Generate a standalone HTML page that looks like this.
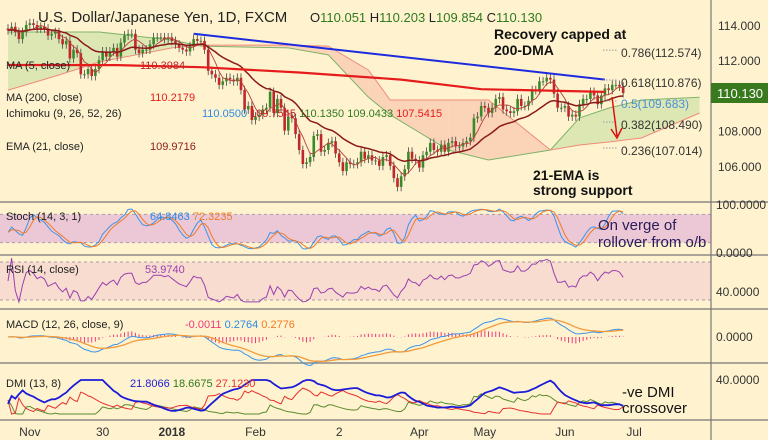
<!DOCTYPE html>
<html><head><meta charset="utf-8">
<style>
html,body{margin:0;padding:0;background:#fff3cf;}
svg{display:block;font-family:"Liberation Sans",sans-serif;}
</style></head>
<body>
<svg id="chart" width="768" height="440" viewBox="0 0 768 440" xmlns="http://www.w3.org/2000/svg">
<rect x="0" y="0" width="768" height="440" fill="#fff3cf"/>
<g id="panels"></g>
<g id="marks"></g>
<g id="labels"></g>
</svg>
<script>
// ---- data ----
const closes=[113.7,113.9,113.6,113.2,113.6, 114.0,114.1,114.0,
113.8,113.9,113.8,113.4,113.5, 113.6,113.2,112.9,113.1,112.1, 112.6,112.4,111.2,111.2,111.5,
111.1,111.5,112.0,112.5,112.2, 112.5,112.7,112.2,113.0,113.4, 113.5,113.5,112.6,112.4,112.6,
112.6,112.9,113.3,113.3,113.3, 113.2,113.3,113.1,112.9,112.7, 112.6,112.5,112.8,113.2,113.1,
113.1,112.6,111.4,111.2,111.0, 110.6,110.8,111.0,110.9,110.8, 111.0,110.3,109.2,109.4,108.6,
108.8,108.9,109.2,109.3,110.2, 109.0,109.8,109.3,108.0,108.8, 108.7,107.8,106.9,106.1,106.2,
106.5,107.7,107.8,106.8,106.9, 107.3,107.4,106.7,106.2,105.7, 106.2,106.1,106.1,106.2,106.8,
106.4,106.6,106.3,106.3,106.0, 106.5,106.6,106.0,105.3,104.8, 105.4,105.8,106.8,106.4,106.3,
105.9,106.6,106.8,107.3,106.9, 106.8,107.2,106.8,107.3,107.4, 107.1,107.1,107.3,107.4,107.6,
108.7,108.8,109.4,109.3,109.0, 109.3,109.8,109.9,109.2,109.1, 109.0,109.1,109.8,109.4,109.4,
109.7,110.3,110.3,110.8,110.8, 111.0,110.9,110.1,109.3,109.3, 109.4,108.8,108.9,108.8,109.5,
109.8,109.8,110.2,110.0,109.5, 110.0,110.4,110.3,110.6,110.6, 110.5,110.13];
const cloudIdx=[0,14,25,45,53,77,88,99,105,121,132,149,157,165,174,190];
const spanA=[113.6,113.6,113.6,113.15,112.8,112.7,112.3,109.9,108.9,106.9,106.33,106.9,108.72,109.28,109.74,109.9];
const spanB=[110.3,111.16,111.9,112.7,112.86,112.86,112.8,111.44,109.74,109.74,109.74,106.9,107.18,107.35,107.58,109.0];
const ma200Idx=[0,30,53,80,108,130,164];
const ma200Vals=[111.73,111.72,111.6,111.3,110.9,110.35,110.2];
const trendIdx=[51,164];
const trendVals=[113.5,110.9];
const fibLabels=["0.786","0.618","0.5","0.382","0.236"];
const fibValues=[112.574,110.876,109.683,108.490,107.014];
const priceTicks=[114,112,108,106];
const xLabels=["Nov","30","2018","Feb","2","Apr","May","Jun","Jul"];
const xLabelIdx=[6,26,45,68,91,113,131,153,172];

// ---- axes ----
const X0=8, DX=3.64;
const xI=i=>X0+i*DX;
const yM=p=>25+(114-p)*17.6;
const yS=v=>252-v*0.47;
const yR=v=>300-(v-30)*0.95;
const yMA=v=>337-v*24;
const yD=v=>380+(40-v)*1.0;
const NS='http://www.w3.org/2000/svg';
const marks=document.getElementById('marks');
const panels=document.getElementById('panels');
const labels=document.getElementById('labels');
function mk(parent,tag,attrs){const e=document.createElementNS(NS,tag);for(const k in attrs)e.setAttribute(k,attrs[k]);parent.appendChild(e);return e;}
function txt(parent,x,y,s,attrs){const e=mk(parent,'text',Object.assign({x:x,y:y},attrs||{}));e.textContent=s;return e;}
function pathFrom(idx,vals,yf){return vals.map((v,k)=>(k?'L':'M')+xI(idx[k]).toFixed(1)+','+yf(v).toFixed(1)).join('');}
function seriesPath(vals,yf){let d='';let first=true;vals.forEach((v,i)=>{if(v==null||isNaN(v))return;d+=(first?'M':'L')+xI(i).toFixed(1)+','+yf(v).toFixed(1);first=false;});return d;}

const opens=closes.map((c,i)=>i?closes[i-1]:c+0.1);
const highs=closes.map((c,i)=>Math.max(c,opens[i])+0.25);
const lows=closes.map((c,i)=>Math.min(c,opens[i])-0.25);

function ema(arr,n){const k=2/(n+1);let out=[];let p=arr[0];arr.forEach((v,i)=>{p=i?v*k+p*(1-k):v;out.push(p);});return out;}
function sma(arr,n){return arr.map((v,i)=>{let s=0,c=0;for(let j=Math.max(0,i-n+1);j<=i;j++){s+=arr[j];c++;}return s/c;});}
const ema21=ema(closes,21);
const ma5=sma(closes,5);
const stochRaw=closes.map((c,i)=>{let hh=-1e9,ll=1e9;for(let j=Math.max(0,i-13);j<=i;j++){hh=Math.max(hh,highs[j]);ll=Math.min(ll,lows[j]);}return (c-ll)/(hh-ll)*100;});
const stochK=sma(stochRaw,3);
const stochD=sma(stochK,3);
const rsi=(()=>{let ag=0,al=0,out=[];closes.forEach((c,i)=>{if(!i){out.push(50);return;}const d=c-closes[i-1];const g=Math.max(d,0),l=Math.max(-d,0);if(i<=14){ag+=g/14;al+=l/14;}else{ag=(ag*13+g)/14;al=(al*13+l)/14;}out.push(al===0?100:100-100/(1+ag/al));});return out;})();
const e12=ema(closes,12), e26=ema(closes,26);
const macd=e12.map((v,i)=>v-e26[i]);
const macdSig=ema(macd,9);
const dmi=(()=>{let sp=0,sm=0,st=0,adx=20,pd=[],md=[],ad=[];closes.forEach((c,i)=>{if(!i){pd.push(20);md.push(20);ad.push(20);return;}const up=highs[i]-highs[i-1],dn=lows[i-1]-lows[i];const p=(up>dn&&up>0)?up:0,m=(dn>up&&dn>0)?dn:0;const tr=Math.max(highs[i]-lows[i],Math.abs(highs[i]-closes[i-1]),Math.abs(lows[i]-closes[i-1]));sp=sp*12/13+p;sm=sm*12/13+m;st=st*12/13+tr;const P=100*sp/st,M=100*sm/st;const dx=100*Math.abs(P-M)/Math.max(P+M,1e-9);adx=(adx*7+dx)/8;pd.push(P);md.push(M);ad.push(adx);});return {pd,md,ad};})();

// ---- panels ----
const band1=mk(panels,'rect',{x:0,y:yS(80),width:711,height:yS(20)-yS(80),fill:'#ecc8d6'});


const band2=mk(panels,'rect',{x:0,y:yR(70),width:711,height:yR(30)-yR(70),fill:'#f7dccf'});


[yS(80),yS(20),yR(70),yR(30)].forEach(y=>{const l=mk(panels,'line',{x1:0,x2:711,y1:y,y2:y,stroke:'#a99aa8','stroke-dasharray':'3,3'});

});
[202,255,309,363,420].forEach(y=>{const l=mk(panels,'line',{x1:0,x2:768,y1:y,y2:y,stroke:'#8d8a86','stroke-width':1.5});

});
const ax=mk(panels,'line',{x1:711,x2:711,y1:0,y2:440,stroke:'#777','stroke-width':1.2});



for(let k=0;k<cloudIdx.length-1;k++){
 const a0=spanA[k],a1=spanA[k+1],b0=spanB[k],b1=spanB[k+1];
 const green=(a0+a1)>(b0+b1);
 const pg=mk(marks,'polygon',{points:[[xI(cloudIdx[k]),yM(a0)],[xI(cloudIdx[k+1]),yM(a1)],[xI(cloudIdx[k+1]),yM(b1)],[xI(cloudIdx[k]),yM(b0)]].map(p=>p.join(',')).join(' '),fill:green?'#d9e6b0':'#fbd0b4','fill-opacity':0.9});
 
 
}
const sa=mk(marks,'path',{d:pathFrom(cloudIdx,spanA,yM),fill:'none',stroke:'#7fb36a','stroke-width':1});


const sb=mk(marks,'path',{d:pathFrom(cloudIdx,spanB,yM),fill:'none',stroke:'#f08a7a','stroke-width':1});



closes.forEach((c,i)=>{
 const o=opens[i],up=c>=o,col=up?'#3a8a2a':'#c0262c',x=xI(i);
 const w=mk(marks,'line',{x1:x,x2:x,y1:yM(highs[i]),y2:yM(lows[i]),stroke:'#444','stroke-width':0.8});
 
 
 const r=mk(marks,'rect',{x:x-1.3,y:yM(Math.max(o,c)),width:2.6,height:Math.max(1,Math.abs(yM(o)-yM(c))),fill:col});
 
 
});
const m5=mk(marks,'path',{d:seriesPath(ma5,yM),fill:'none',stroke:'#b5403a','stroke-width':0.9});


const e21=mk(marks,'path',{d:seriesPath(ema21,yM),fill:'none',stroke:'#8b1a1a','stroke-width':1.5});


const m200=mk(marks,'path',{d:pathFrom(ma200Idx,ma200Vals,yM),fill:'none',stroke:'#e51c1c','stroke-width':2.2});


const tl=mk(marks,'path',{d:pathFrom(trendIdx,trendVals,yM),fill:'none',stroke:'#1d2be0','stroke-width':2});



fibValues.forEach((v,k)=>{
 const l=mk(marks,'line',{x1:603,x2:617,y1:yM(v),y2:yM(v),stroke:'#999','stroke-dasharray':'1.5,1.5'});
 
 
 const t=txt(labels,621,yM(v)+7,fibLabels[k]+'('+v.toFixed(3)+')',{'font-size':12,fill:k==2?'#4a8fd6':'#333'});
 
 
});
const ar=mk(marks,'path',{d:'M612,97 L617,136 M611,129 L617,138 L622,128',fill:'none',stroke:'#e01010','stroke-width':1.5});



const sk=mk(marks,'path',{d:seriesPath(stochK,yS),fill:'none',stroke:'#3c94e6','stroke-width':1});


const sd=mk(marks,'path',{d:seriesPath(stochD,yS),fill:'none',stroke:'#f07a28','stroke-width':1});


const rl=mk(marks,'path',{d:seriesPath(rsi.map(v=>Math.max(28,Math.min(74,v))),yR),fill:'none',stroke:'#9b3fb0','stroke-width':1});


macd.forEach((v,i)=>{const h=v-macdSig[i];const b=mk(marks,'line',{x1:xI(i),x2:xI(i),y1:yMA(0),y2:yMA(h),stroke:'#ee3a7a','stroke-width':1});

});
const ml=mk(marks,'path',{d:seriesPath(macd,yMA),fill:'none',stroke:'#3c94e6','stroke-width':1});


const msl=mk(marks,'path',{d:seriesPath(macdSig,yMA),fill:'none',stroke:'#f39a3a','stroke-width':1.3});


const clampD=v=>Math.max(6,Math.min(40,v));
const dp=mk(marks,'path',{d:seriesPath(dmi.pd.map(clampD),yD),fill:'none',stroke:'#5a8a2e','stroke-width':1});


const dm=mk(marks,'path',{d:seriesPath(dmi.md.map(clampD),yD),fill:'none',stroke:'#e53030','stroke-width':1});


const da=mk(marks,'path',{d:seriesPath(dmi.ad.map(v=>clampD(v*0.8)),yD),fill:'none',stroke:'#1b1bd8','stroke-width':1.8});



priceTicks.forEach(p=>{const t=txt(labels,718,yM(p)+5,p.toFixed(3),{'font-size':12,fill:'#333'});

});
const pb=mk(labels,'rect',{x:711,y:83,width:57,height:20,fill:'#3a7a1e'});


const pt=txt(labels,717,98,'110.130',{'font-size':13,fill:'#fff'});


[[209,'100.0000'],[257,'0.0000'],[296,'40.0000'],[341,'0.0000'],[384,'40.0000']].forEach(([y,s])=>{const t=txt(labels,716,y,s,{'font-size':12,fill:'#333'});

});
xLabels.forEach((s,k)=>{const t=txt(labels,xI(xLabelIdx[k]),436,s,{'font-size':12,fill:'#333','text-anchor':'middle','font-weight':s==='2018'?'bold':'normal'});

});
</script>
<svg style="position:absolute;left:0;top:0" width="768" height="440">
<g font-family="Liberation Sans, sans-serif">
<text x="38" y="22" font-size="15" fill="#222">U.S. Dollar/Japanese Yen, 1D, FXCM</text>
<text x="310" y="22" font-size="13" fill="#222">O<tspan fill="#2e7a1e">110.051</tspan>  H<tspan fill="#2e7a1e">110.203</tspan>  L<tspan fill="#2e7a1e">109.854</tspan>  C<tspan fill="#2e7a1e">110.130</tspan></text>
<text x="6" y="69" font-size="11" fill="#222">MA (5, close)</text>
<text x="140" y="69" font-size="11" fill="#c0262c">110.3984</text>
<text x="6" y="101" font-size="11" fill="#222">MA (200, close)</text>
<text x="150" y="101" font-size="11" fill="#e51c1c">110.2179</text>
<text x="6" y="117" font-size="11" fill="#222">Ichimoku (9, 26, 52, 26)</text>
<text x="202" y="117" font-size="11"><tspan fill="#2a8ae6">110.0500</tspan> <tspan fill="#c0262c">109.7545</tspan> <tspan fill="#2e7a1e">110.1350</tspan> <tspan fill="#2e7a1e">109.0433</tspan> <tspan fill="#e51c1c">107.5415</tspan></text>
<text x="6" y="150" font-size="11" fill="#222">EMA (21, close)</text>
<text x="150" y="150" font-size="11" fill="#8b1a1a">109.9716</text>
<text x="494" y="39" font-size="14" font-weight="bold" fill="#111">Recovery capped at</text>
<text x="494" y="55" font-size="14" font-weight="bold" fill="#111">200-DMA</text>
<text x="533" y="180" font-size="14" font-weight="bold" fill="#111">21-EMA is</text>
<text x="533" y="195" font-size="14" font-weight="bold" fill="#111">strong support</text>
<text x="6" y="220" font-size="11" fill="#222">Stoch (14, 3, 1)</text>
<text x="150" y="220" font-size="11"><tspan fill="#2a8ae6">64.8463</tspan>  <tspan fill="#f07a28">72.3235</tspan></text>
<text x="598" y="230" font-size="15" fill="#2a1a5a">On verge of</text>
<text x="598" y="247" font-size="15" fill="#2a1a5a">rollover from o/b</text>
<text x="6" y="273" font-size="11" fill="#222">RSI (14, close)</text>
<text x="145" y="273" font-size="11" fill="#9b3fb0">53.9740</text>
<text x="6" y="328" font-size="11" fill="#222">MACD (12, 26, close, 9)</text>
<text x="185" y="328" font-size="11"><tspan fill="#ee3a7a">-0.0011</tspan>  <tspan fill="#2a8ae6">0.2764</tspan>  <tspan fill="#f07a28">0.2776</tspan></text>
<text x="6" y="387" font-size="11" fill="#222">DMI (13, 8)</text>
<text x="130" y="387" font-size="11"><tspan fill="#1b1bd8">21.8066</tspan>  <tspan fill="#2e7a1e">18.6675</tspan>  <tspan fill="#e53030">27.1230</tspan></text>
<text x="622" y="397" font-size="15" fill="#111">-ve DMI</text>
<text x="622" y="413" font-size="15" fill="#111">crossover</text>
</g>
</svg>
</body></html>
